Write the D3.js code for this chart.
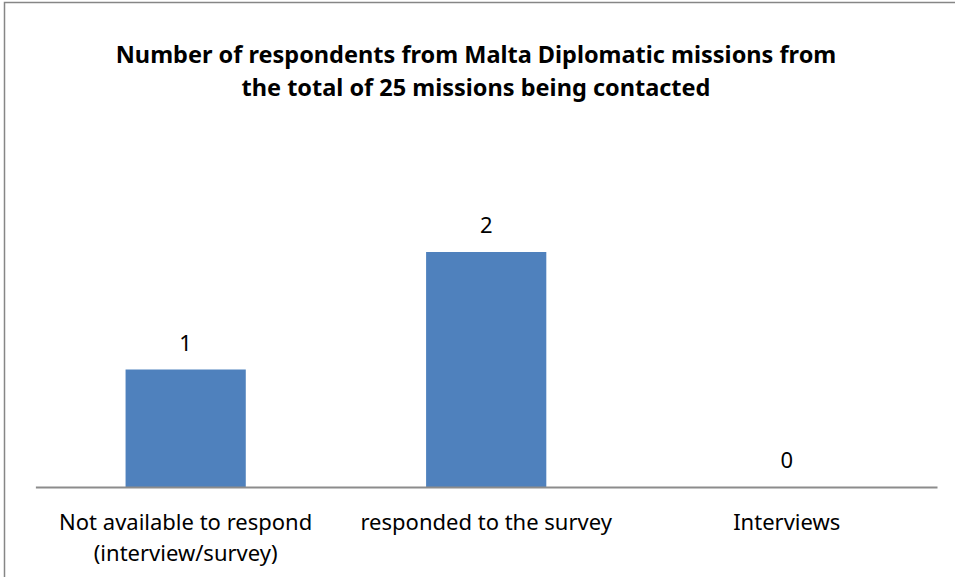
<!DOCTYPE html>
<html>
<head>
<meta charset="utf-8">
<script src="https://cdn.jsdelivr.net/npm/d3@7"></script>
<style>
  html, body { margin: 0; padding: 0; background: #fff; }
  svg { display: block; }
  text { font-family: "Noto Sans", "Open Sans", sans-serif; fill: #000; }
</style>
</head>
<body>
<svg id="chart" width="955" height="577"></svg>
<script>
// Survey response counts
const titleLines = [
  "Number of respondents from Malta Diplomatic missions from",
  "the total of 25 missions being contacted"
];
const categories = ["cat0", "cat1", "cat2"];
const categoryLabels = [
  ["Not available to respond", "(interview/survey)"],
  ["responded to the survey"],
  ["Interviews"]
];
const values = [1, 2, 0];

const W = 955, H = 577;
const svg = d3.select("#chart");

// chart frame
svg.append("rect")
  .attr("x", 4.5).attr("y", 2.5)
  .attr("width", 1000).attr("height", 1000)
  .attr("fill", "#fff")
  .attr("stroke", "#868686")
  .attr("stroke-width", 1.5);

// title
svg.append("text")
  .attr("x", 476).attr("y", 63)
  .attr("text-anchor", "middle")
  .style("font-weight", "bold")
  .style("font-size", "23.5px")
  .selectAll("tspan")
  .data(titleLines)
  .join("tspan")
  .attr("x", 476)
  .attr("dy", (d, i) => i === 0 ? 0 : 33)
  .text(d => d);

const x = d3.scaleBand()
  .domain(categories)
  .range([35.4, 937])
  .paddingInner(0.6)
  .paddingOuter(0.3);

const y = d3.scaleLinear()
  .domain([0, 2.5])
  .range([487, 193.25]);

// bars
svg.append("g")
  .selectAll("rect")
  .data(values)
  .join("rect")
  .attr("x", (d, i) => x(categories[i]))
  .attr("y", d => y(d))
  .attr("width", x.bandwidth())
  .attr("height", d => y(0) - y(d))
  .attr("fill", "#4f81bd");

// category axis line
const axis = svg.append("g")
  .attr("transform", `translate(0,${y(0)})`)
  .call(d3.axisBottom(x).tickSize(0).tickFormat(""));
axis.select(".domain")
  .attr("stroke", "#8c8c8c")
  .attr("stroke-width", 2);

// value labels
svg.append("g")
  .selectAll("text")
  .data(values)
  .join("text")
  .attr("x", (d, i) => x(categories[i]) + x.bandwidth() / 2)
  .attr("y", d => y(d) - 19)
  .attr("text-anchor", "middle")
  .style("font-size", "22px")
  .text(d => d);

// category labels
const lab = svg.append("g")
  .selectAll("text")
  .data(categoryLabels)
  .join("text")
  .attr("text-anchor", "middle")
  .attr("y", 530)
  .style("font-size", "22px");
lab.selectAll("tspan")
  .data((d, i) => d.map(t => ({ t, i })))
  .join("tspan")
  .attr("x", d => x(categories[d.i]) + x.bandwidth() / 2)
  .attr("dy", (d, j) => j === 0 ? 0 : 31)
  .text(d => d.t);
</script>
</body>
</html>
